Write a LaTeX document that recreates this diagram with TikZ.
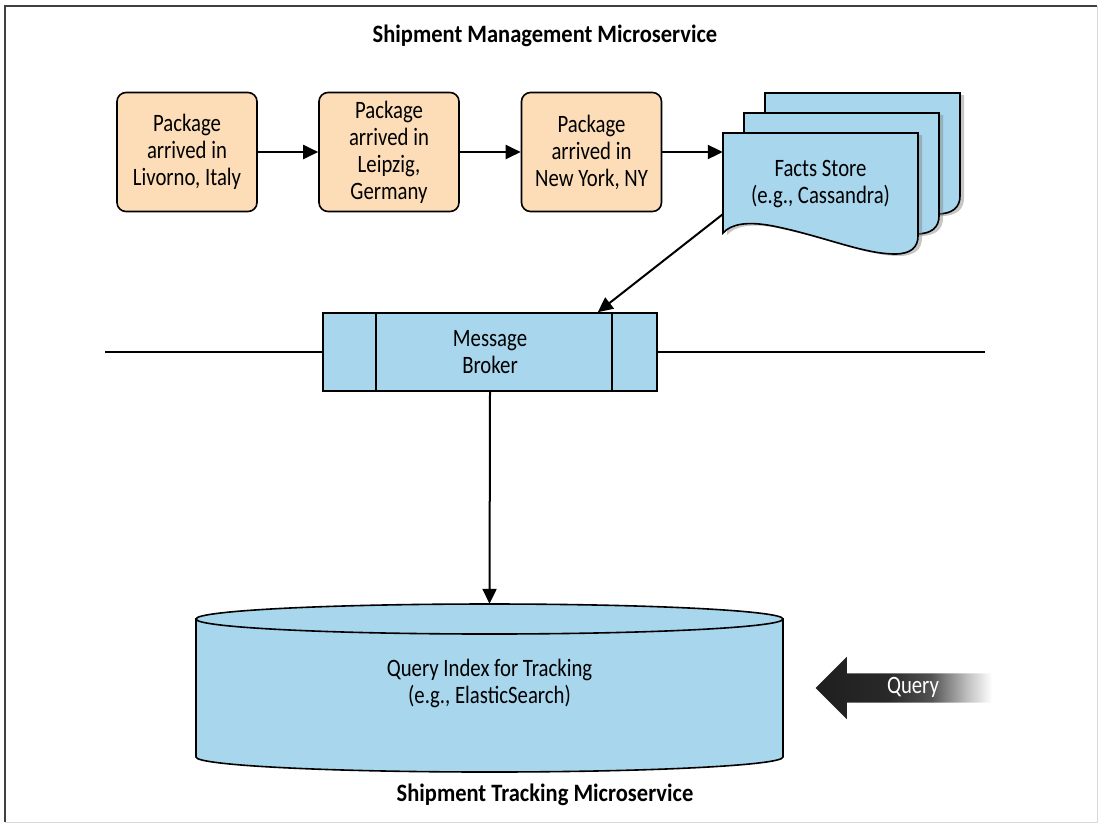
\documentclass[tikz,border=0pt]{standalone}
\usepackage{fontspec}
\setmainfont{Carlito}[FakeStretch=0.83]
\newfontfamily\titlefont{Carlito}[FakeStretch=0.9]
\usepackage{xcolor}
\usepackage{tikz}
\usetikzlibrary{shapes,arrows,arrows.meta,positioning,shadows}

\definecolor{eventfill}{RGB}{252,221,184}
\definecolor{storefill}{RGB}{168,214,237}
\pgfdeclarehorizontalshading{queryfade}{100bp}{color(0bp)=(black!88); color(25bp)=(black!88); color(45bp)=(black!84); color(57bp)=(black!68); color(67bp)=(black!25); color(74bp)=(white); color(100bp)=(white)}

\begin{document}
\begin{tikzpicture}[x=1pt, y=-1pt,
    every node/.style={font=\fontsize{25}{27}\selectfont},
    title/.style={font=\titlefont\bfseries\fontsize{25}{27}\selectfont},
    event/.style={rectangle, rounded corners=9pt, draw=black, fill=eventfill, line width=1.6pt, minimum width=140pt, minimum height=119pt, align=center, inner sep=2pt},
    sheet/.style={draw=black, fill=storefill, line width=1.6pt, drop shadow={shadow xshift=4pt, shadow yshift=-2pt, opacity=0.45}},
    broker/.style={rectangle, draw=black, fill=storefill, line width=1.6pt, minimum width=334pt, minimum height=78pt, align=center, inner sep=0pt},
    drum/.style={draw=black, fill=storefill, line width=1.6pt},
    bus/.style={line width=1.6pt},
    arrow/.style={-{Triangle[length=15pt, width=14pt]}, line width=2pt}
]
    \useasboundingbox (0,0) rectangle (1099,823);
    % Rahmen
    \draw[line width=2pt, black!75] (5,822) -- (5,6) -- (1097,6);
    \draw[line width=1pt, black!15] (1097,6) -- (1097,822) -- (5,822);

    % Oben - Shipment Management
    \node[title] (mgmt) at (545,36) {Shipment Management Microservice};
    \node[event] (livorno) at (187,152) {Package\\arrived in\\Livorno, Italy};
    \node[event] (leipzig) at (389,152) {Package\\arrived in\\Leipzig,\\Germany};
    \node[event] (newyork) at (591.5,152) {Package\\arrived in\\New York, NY};

    % Facts Store - drei Blaetter
    \foreach \d in {2,1,0} {
        \path[sheet, shift={(723+21*\d,133-20*\d)}] (0,0) -- (0,100)
            .. controls (8,91) and (24,88) .. (50,93)
            .. controls (100,103) and (140,121) .. (172,121)
            .. controls (188,121) and (195,114) .. (195,103) -- (195,0) -- cycle;
    }
    \node[align=center, minimum width=195pt, minimum height=100pt, inner sep=0pt] (facts) at (820.5,184) {Facts Store\\(e.g., Cassandra)};

    \draw[arrow] (livorno.east) -- (leipzig.west);
    \draw[arrow] (leipzig.east) -- (newyork.west);
    \draw[arrow] (newyork.east) -- (newyork.east -| facts.west);

    % Message Broker
    \node[broker] (broker) at (490,352) {Message\\Broker};
    \draw[bus] ([xshift=54pt]broker.north west) -- ([xshift=54pt]broker.south west);
    \draw[bus] ([xshift=-46pt]broker.north east) -- ([xshift=-46pt]broker.south east);
    \coordinate (busL) at (105,352);
    \coordinate (busR) at (985,352);
    \draw[bus] (busL) -- (broker.west);
    \draw[bus] (broker.east) -- (busR);
    \draw[arrow] ([yshift=20pt]facts.south west) -- ([xshift=-60pt]broker.north east);

    % Query Index
    \filldraw[drum] (196,619) -- (196,757) arc[start angle=180, end angle=360, x radius=293.5pt, y radius=15pt] -- (783,619) -- cycle;
    \filldraw[drum] (489.5,619) ellipse[x radius=293.5pt, y radius=15pt];
    \node[align=center, minimum width=587pt, minimum height=158pt, inner sep=0pt] (index) at (489.5,683) {Query Index for Tracking\\(e.g., ElasticSearch)};
    \draw[arrow] (broker.south) -- (index.north);

    \node[single arrow, shape border rotate=180, shading=queryfade, draw=none, minimum height=180pt, single arrow head extend=16.5pt, text height=17pt, text depth=6pt, inner ysep=3pt, inner xsep=0pt, text=white] (query) at (913,688) {Query};

    % Unten
    \node[title] (tracking) at (545,795) {Shipment Tracking Microservice};
\end{tikzpicture}
\end{document}
